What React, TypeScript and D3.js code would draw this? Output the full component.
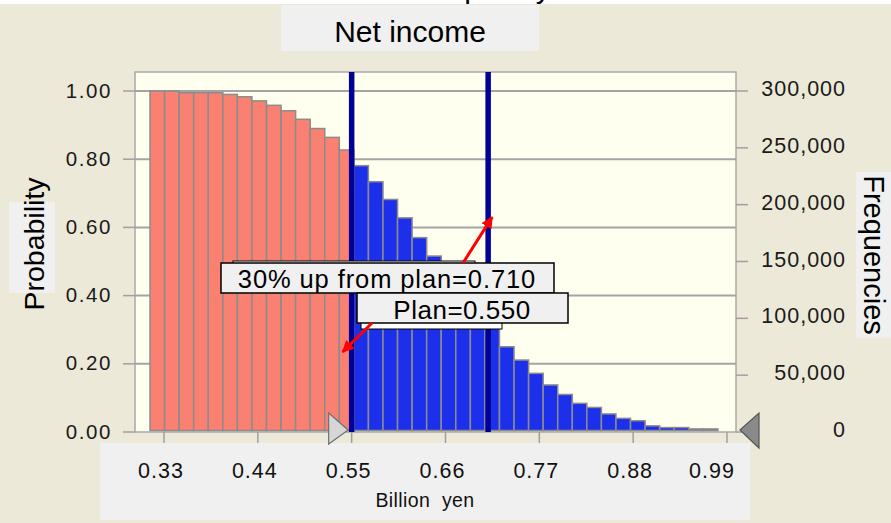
import React from 'react';
import * as d3 from 'd3';

// ---------- data ----------
const xTickValues = [0.33, 0.44, 0.55, 0.66, 0.77, 0.88, 0.99];
const xTickLabels = ['0.33', '0.44', '0.55', '0.66', '0.77', '0.88', '0.99'];
const probTicks = [0, 0.2, 0.4, 0.6, 0.8, 1.0];
const probTickLabels = ['0.00', '0.20', '0.40', '0.60', '0.80', '1.00'];
const freqTicks = [0, 50000, 100000, 150000, 200000, 250000, 300000];
const freqTickLabels = ['0', '50,000', '100,000', '150,000', '200,000', '250,000', '300,000'];
const binStart = 0.3136;
const binWidth = 0.01707;
// reverse cumulative probability per bin
const reverseCumProb = [
  1.0, 1.0, 0.995, 0.995, 0.995, 0.99, 0.983, 0.971, 0.958, 0.942,
  0.917, 0.89, 0.864, 0.827, 0.781, 0.734, 0.682, 0.628, 0.57, 0.516,
  0.465, 0.41, 0.36, 0.31, 0.25, 0.211, 0.172, 0.138, 0.11, 0.084,
  0.072, 0.053, 0.04, 0.033, 0.018, 0.013, 0.013, 0.009, 0.009,
];
const planValue = 0.55;
const upValue = 0.71;
const planLabel = 'Plan=0.550';
const upLabel = '30% up from plan=0.710';
const title = 'Net income';
const topTitle = 'Frequency';
const xTitle = 'Billion  yen';
const yLeftTitle = 'Probability';
const yRightTitle = 'Frequencies';

const FONT = '"Liberation Sans", Arial, Helvetica, sans-serif';

export default function App() {
  const W = 891, H = 523;
  const plot = { left: 135, right: 736, top: 72, bottom: 432 };

  const x = d3.scaleLinear().domain([0.33, 0.99]).range([164, 727]);
  const yP = d3.scaleLinear().domain([0, 1]).range([plot.bottom, 91]);
  const yF = d3.scaleLinear().domain([0, 300000]).range([plot.bottom, 91]);

  const RED = '#FA8072';
  const BLUE = '#1C30EC';
  const NAVY = '#000096';
  const BAR_STROKE = '#8C8C8C';

  type Seg = { x0: number; x1: number; v: number; color: string; key: string };
  const segs: Seg[] = [];
  reverseCumProb.forEach((v, k) => {
    const a = binStart + k * binWidth;
    const b = a + binWidth;
    if (b <= planValue) segs.push({ x0: a, x1: b, v, color: RED, key: `r${k}` });
    else if (a >= planValue) segs.push({ x0: a, x1: b, v, color: BLUE, key: `b${k}` });
    else {
      segs.push({ x0: a, x1: planValue, v, color: RED, key: `r${k}` });
      segs.push({ x0: planValue, x1: b, v, color: BLUE, key: `b${k}` });
    }
  });

  const xp = x(planValue);
  const xu = x(upValue);

  return (
    <svg width={W} height={H} style={{ position: 'absolute', left: 0, top: 0, display: 'block' }}
      fontFamily={FONT}>
      <defs>
        <marker id="arrowRed" viewBox="0 0 10 10" refX="9" refY="5" markerWidth="12" markerHeight="12"
          markerUnits="userSpaceOnUse" orient="auto">
          <path d="M0,0 L10,5 L0,10 z" fill="#FF0000" />
        </marker>
      </defs>
      <rect x={0} y={0} width={W} height={H} fill="#ECE9D8" />
      <rect x={0} y={0} width={W} height={4} fill="#FFFFFF" />
      <text x={480} y={-2} fontSize={30} textAnchor="middle" fill="#000">{topTitle}</text>

      {/* title */}
      <rect x={281} y={5} width={258} height={46} fill="#F0F0F0" />
      <text x={410} y={42} fontSize={30} textAnchor="middle" fill="#000">{title}</text>

      {/* axis title boxes */}
      <rect x={9} y={202} width={46} height={91} fill="#F0F0F0" />
      <text transform={`translate(44,244) rotate(-90)`} fontSize={28.5} textAnchor="middle" fill="#000">{yLeftTitle}</text>
      <rect x={856} y={172} width={35} height={166} fill="#F0F0F0" />
      <text transform={`translate(864,255) rotate(90)`} fontSize={29} textAnchor="middle" fill="#000">{yRightTitle}</text>

      {/* plot area */}
      <rect x={plot.left} y={plot.top} width={plot.right - plot.left} height={plot.bottom - plot.top}
        fill="#FFFFF0" stroke="#A8A8A8" strokeWidth={1.5} />
      {probTicks.filter((t) => t > 0).map((t) => (
        <line key={`g${t}`} x1={plot.left} x2={plot.right} y1={yP(t)} y2={yP(t)} stroke="#A4A4A4" strokeWidth={2} />
      ))}

      {/* bars */}
      {segs.map((s) => (
        <rect key={s.key} x={x(s.x0)} y={yP(s.v)} width={x(s.x1) - x(s.x0)} height={yP(0) - yP(s.v) - 1.5}
          fill={s.color} stroke={BAR_STROKE} strokeWidth={1.5} />
      ))}

      {/* marker lines */}
      <line x1={xp} x2={xp} y1={plot.top} y2={plot.bottom} stroke={NAVY} strokeWidth={5.5} />
      <line x1={xu} x2={xu} y1={plot.top} y2={plot.bottom} stroke={NAVY} strokeWidth={5.5} />

      {/* left axis */}
      {probTicks.map((t, i) => (
        <g key={`lp${t}`}>
          <line x1={123} x2={plot.left} y1={yP(t)} y2={yP(t)} stroke="#A0A0A0" strokeWidth={1.5} />
          <text x={112} y={yP(t) - 1} fontSize={20.5} letterSpacing={1.6} textAnchor="end" dominantBaseline="central" fill="#1a1a1a">
            {probTickLabels[i]}
          </text>
        </g>
      ))}

      {/* right axis */}
      {freqTicks.map((t, i) => (
        <g key={`rf${t}`}>
          <line x1={plot.right} x2={748} y1={yF(t)} y2={yF(t)} stroke="#A0A0A0" strokeWidth={1.5} />
          <text x={846} y={yF(t) - 2} fontSize={21.5} letterSpacing={1} textAnchor="end" dominantBaseline="central" fill="#1a1a1a">
            {freqTickLabels[i]}
          </text>
        </g>
      ))}

      {/* bottom axis */}
      {xTickValues.map((v) => (
        <line key={`bt${v}`} x1={x(v)} x2={x(v)} y1={plot.bottom} y2={443} stroke="#A0A0A0" strokeWidth={1.5} />
      ))}
      <rect x={100} y={443} width={650} height={77} fill="#F0F0F0" />
      {xTickValues.map((v, i) => (
        <text key={`bl${v}`} x={Math.min(x(v) - 3, plot.right - 24)} y={478} fontSize={21.5} letterSpacing={1}
          textAnchor="middle" fill="#111">{xTickLabels[i]}</text>
      ))}
      <text x={425} y={507} fontSize={19.5} letterSpacing={0.4} textAnchor="middle" fill="#111" style={{ whiteSpace: 'pre' }}>{xTitle}</text>

      {/* sliders */}
      <polygon points={`${xp - 23},413 ${xp - 3.5},430 ${xp - 23},444`} fill="#D6D6D6" stroke="#707070" strokeWidth={1.2} />
      <polygon points={`${plot.right + 4},430 ${plot.right + 23},413 ${plot.right + 23},448`} fill="#8A8A8A" stroke="#555" strokeWidth={1.2} />

      {/* annotation boxes */}
      <rect x={233} y={261} width={242} height={28} fill="#FFFFFF" stroke="#000" strokeWidth={1} />
      <rect x={221} y={263} width={333} height={30} fill="#F0F0F0" stroke="#000" strokeWidth={1.5} />
      <text x={387} y={288} fontSize={25.5} letterSpacing={0.9} textAnchor="middle" fill="#000">{upLabel}</text>
      <rect x={361} y={300} width={141} height={29} fill="#FFFFFF" stroke="#000" strokeWidth={1} />
      <rect x={357} y={293} width={211} height={30} fill="#F0F0F0" stroke="#000" strokeWidth={1.5} />
      <text x={462} y={319} fontSize={26} letterSpacing={0.5} textAnchor="middle" fill="#000">{planLabel}</text>

      {/* arrows */}
      <line x1={463} y1={263} x2={xu + 4} y2={yP(0.63)} stroke="#FF0000" strokeWidth={3} markerEnd="url(#arrowRed)" />
      <line x1={372} y1={323} x2={xp - 9} y2={yP(0.235)} stroke="#FF0000" strokeWidth={3} markerEnd="url(#arrowRed)" />
    </svg>
  );
}
